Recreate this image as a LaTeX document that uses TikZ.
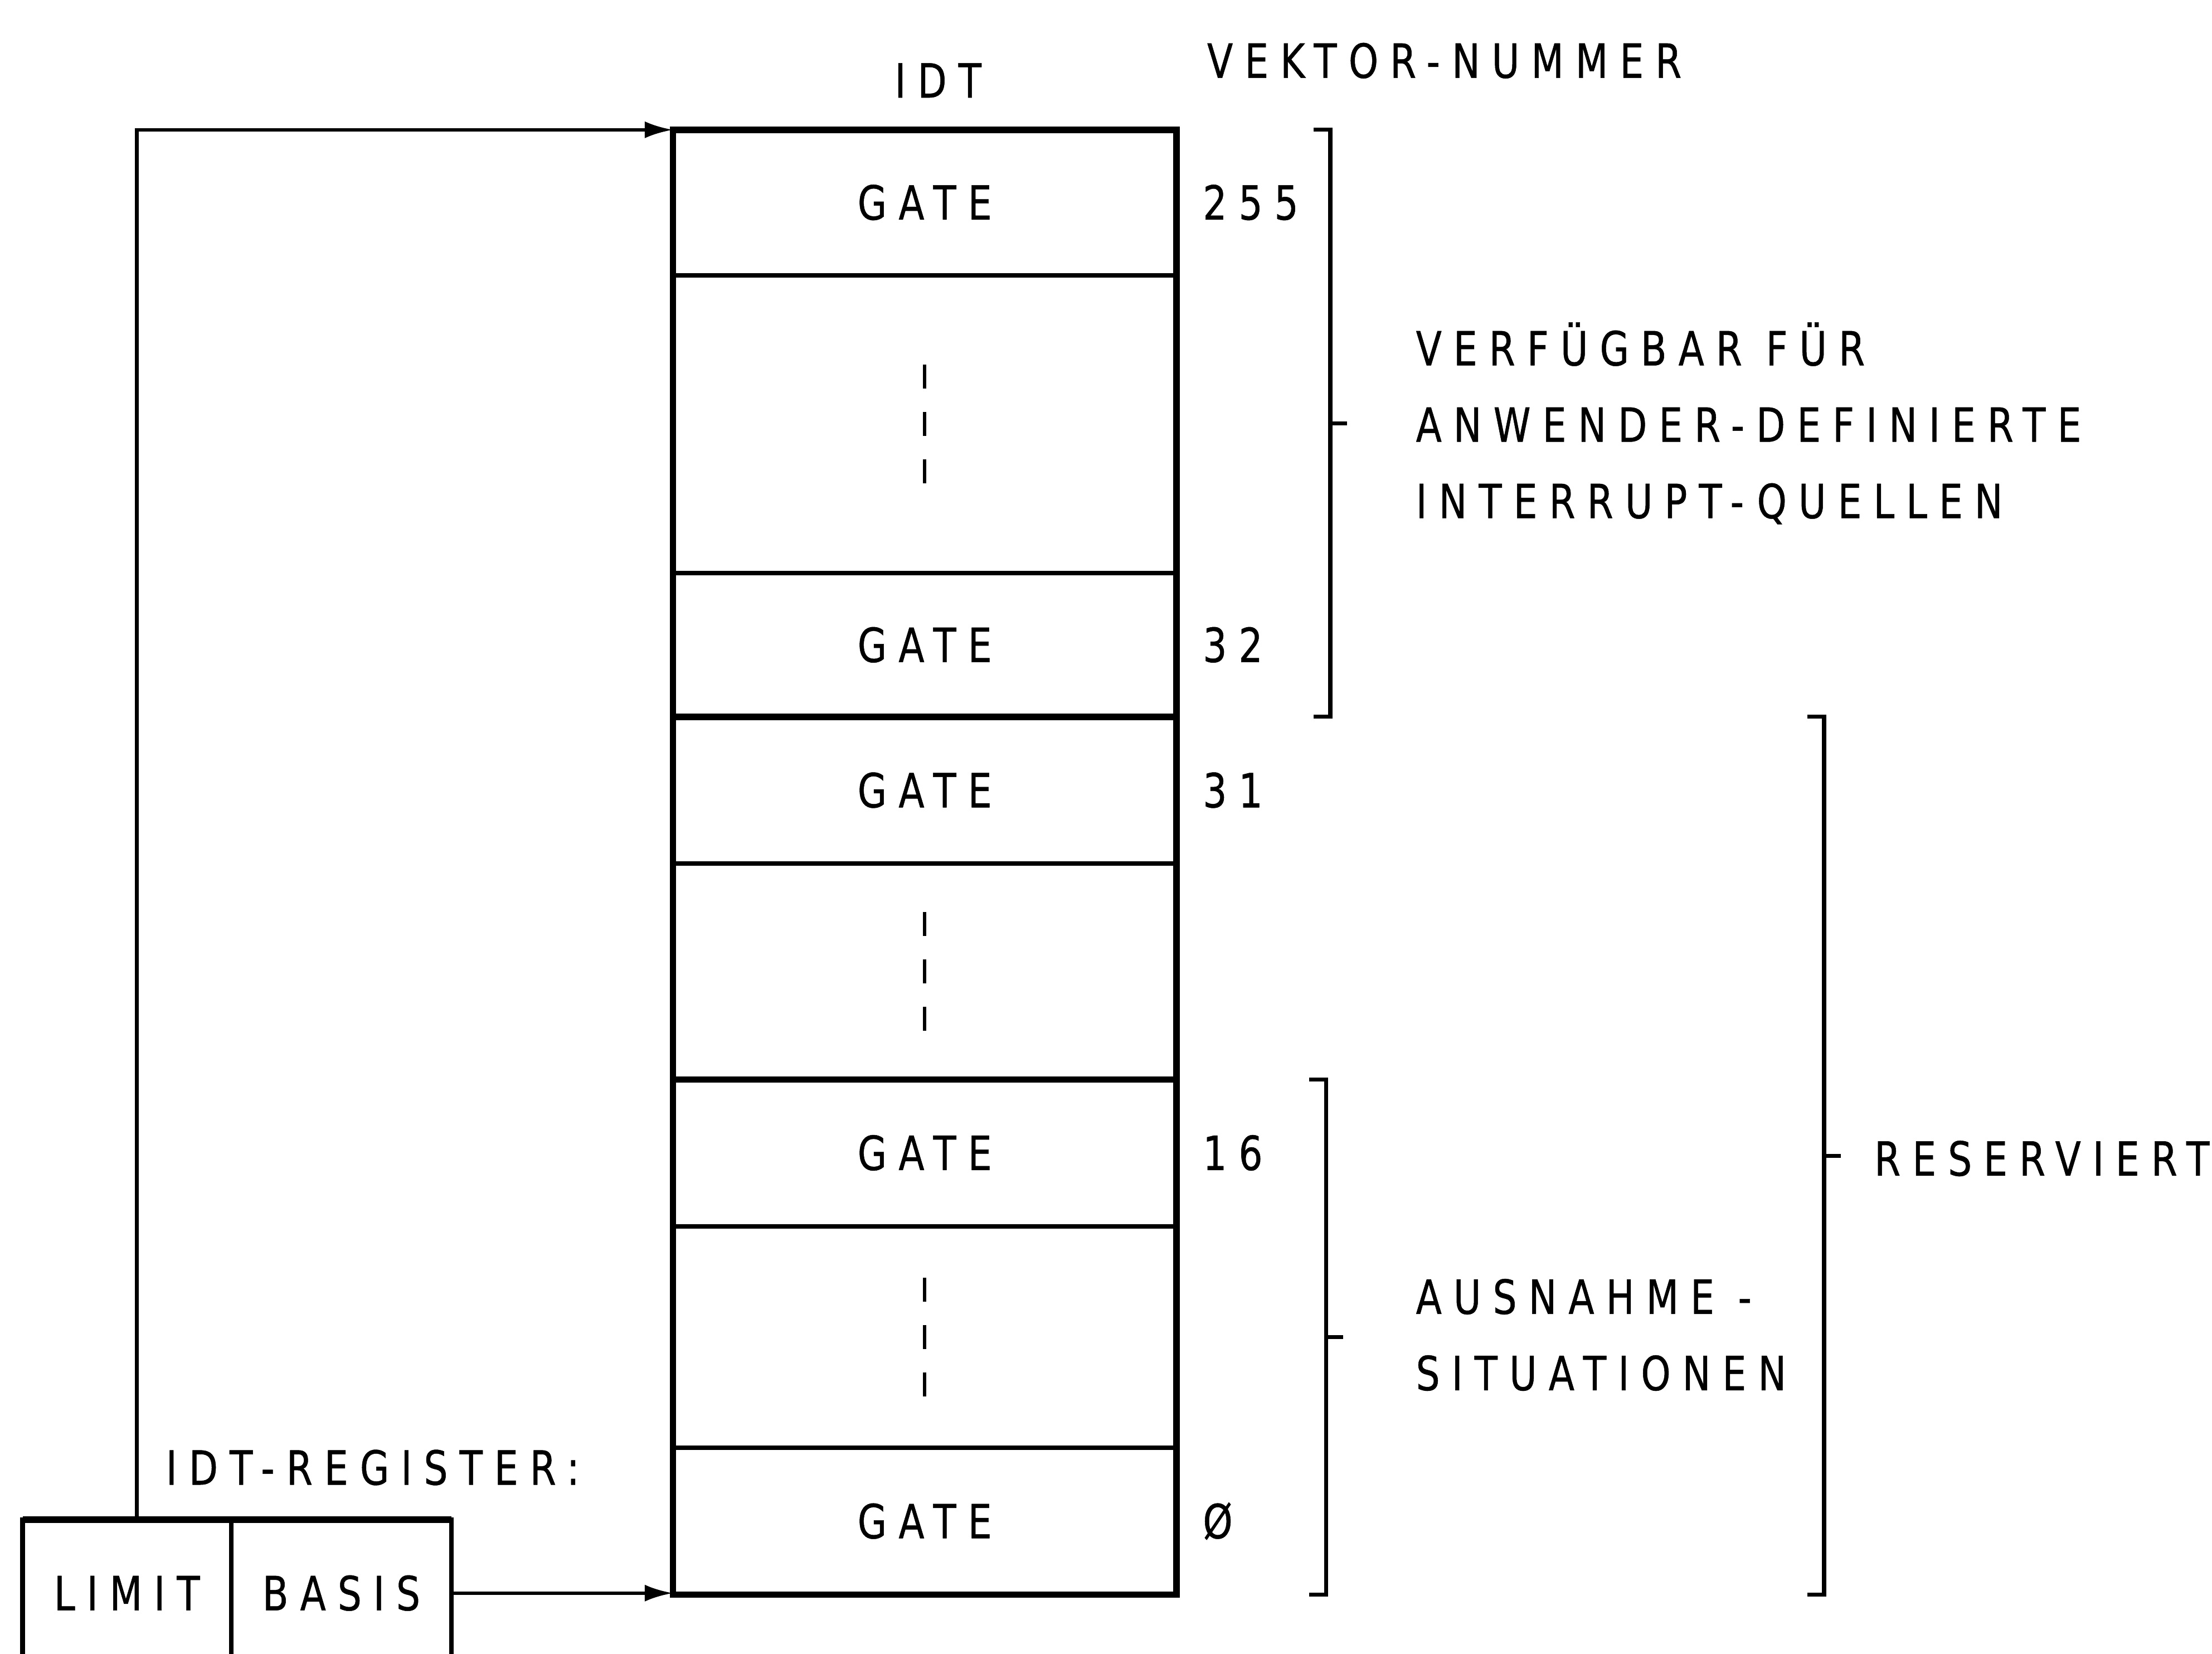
\documentclass[tikz,border=0pt]{standalone}
\usepackage{fontspec}
\setmainfont{DejaVu Sans}[FakeStretch=0.8,LetterSpace=25,FakeBold=0.6]
\usetikzlibrary{arrows.meta,positioning,calc}

\begin{document}
\begin{tikzpicture}[x=1cm,y=1cm,
    txt/.style={inner sep=0pt,font=\fontsize{9.5}{15.4}\selectfont},
    slot/.style={draw,line width=0.9pt,minimum width=3.57cm,outer sep=0pt,txt},
    reg/.style={draw,line width=0.9pt,minimum height=1.04cm,outer sep=0pt,txt},
    bar/.style={line width=0.8pt},
    ptr/.style={line width=0.7pt,-{Latex[length=2mm,width=1.2mm]}}]
  \useasboundingbox (0,0) rectangle (15.68,11.72);
  % the table, from vector 255 down to 0
  \node[slot,minimum height=1.03cm,anchor=north] (g255) at (6.555,10.80) {GATE};
  \node[slot,minimum height=2.11cm,below=0pt of g255] (d1) {};
  \node[slot,minimum height=1.02cm,below=0pt of d1] (g32) {GATE};
  \node[slot,minimum height=1.04cm,below=0pt of g32] (g31) {GATE};
  \node[slot,minimum height=1.53cm,below=0pt of g31] (d2) {};
  \node[slot,minimum height=1.04cm,below=0pt of d2] (g16) {GATE};
  \node[slot,minimum height=1.57cm,below=0pt of g16] (d3) {};
  \node[slot,minimum height=1.04cm,below=0pt of d3] (g0) {GATE};
  \draw[line width=1.3pt] (g255.north west) rectangle (g0.south east);
  \draw[line width=1.3pt] (g31.north west) -- (g31.north east);
  \draw[line width=1.3pt] (g16.north west) -- (g16.north east);
  \foreach \r in {d1,d2,d3}
    \draw[line width=0.7pt,dash pattern=on 1.7mm off 1.65mm] ([yshift=4.2mm]\r.center) -- ([yshift=-4.2mm]\r.center);
  \node[txt] (idt) at (6.65,11.15) {IDT};
  \node[txt,anchor=west] (vnr) at (8.55,11.29) {VEKTOR-NUMMER};
  \foreach \r/\n in {g255/255, g32/32, g31/31, g16/16, g0/Ø}
    \node[txt,right=1.8mm of \r] (n\r) {\n};
  % brackets
  \foreach \bx/\hi/\lo in {9.43/g255.north/g32.south, 9.40/g16.north/g0.south, 12.93/g31.north/g0.south} {
    \coordinate (bx) at (\bx,0);
    \coordinate (bh) at (bx |- \hi);
    \coordinate (bl) at (bx |- \lo);
    \draw[bar] ([xshift=-1.2mm]bh) -- (bh) -- (bl) -- ([xshift=-1.2mm]bl);
    \draw[bar] ($(bh)!0.5!(bl)$) -- ++(1.2mm,0);
  }
  \node[txt,anchor=west,align=left] (user) at (10.03,8.72) {VERFÜGBAR FÜR\\ANWENDER-DEFINIERTE\\INTERRUPT-QUELLEN};
  \node[txt,anchor=west,align=left] (exc) at (10.03,2.26) {AUSNAHME -\\SITUATIONEN};
  \node[txt,anchor=west] (res) at (13.28,3.51) {RESERVIERT};
  % register
  \node[txt,anchor=west] (regname) at (1.17,1.32) {IDT-REGISTER:};
  \node[reg,minimum width=1.48cm,anchor=west] (limit) at (0.16,0.43) {LIMIT};
  \node[reg,minimum width=1.56cm,right=0pt of limit] (basis) {BASIS};
  \draw[line width=1.3pt] (limit.north west) -- (basis.north east);
  \draw[ptr] ([xshift=0.7mm]limit.north) |- (g255.north west);
  \draw[ptr] (basis.east) -- (basis.east -| g0.west);
\end{tikzpicture}
\end{document}
